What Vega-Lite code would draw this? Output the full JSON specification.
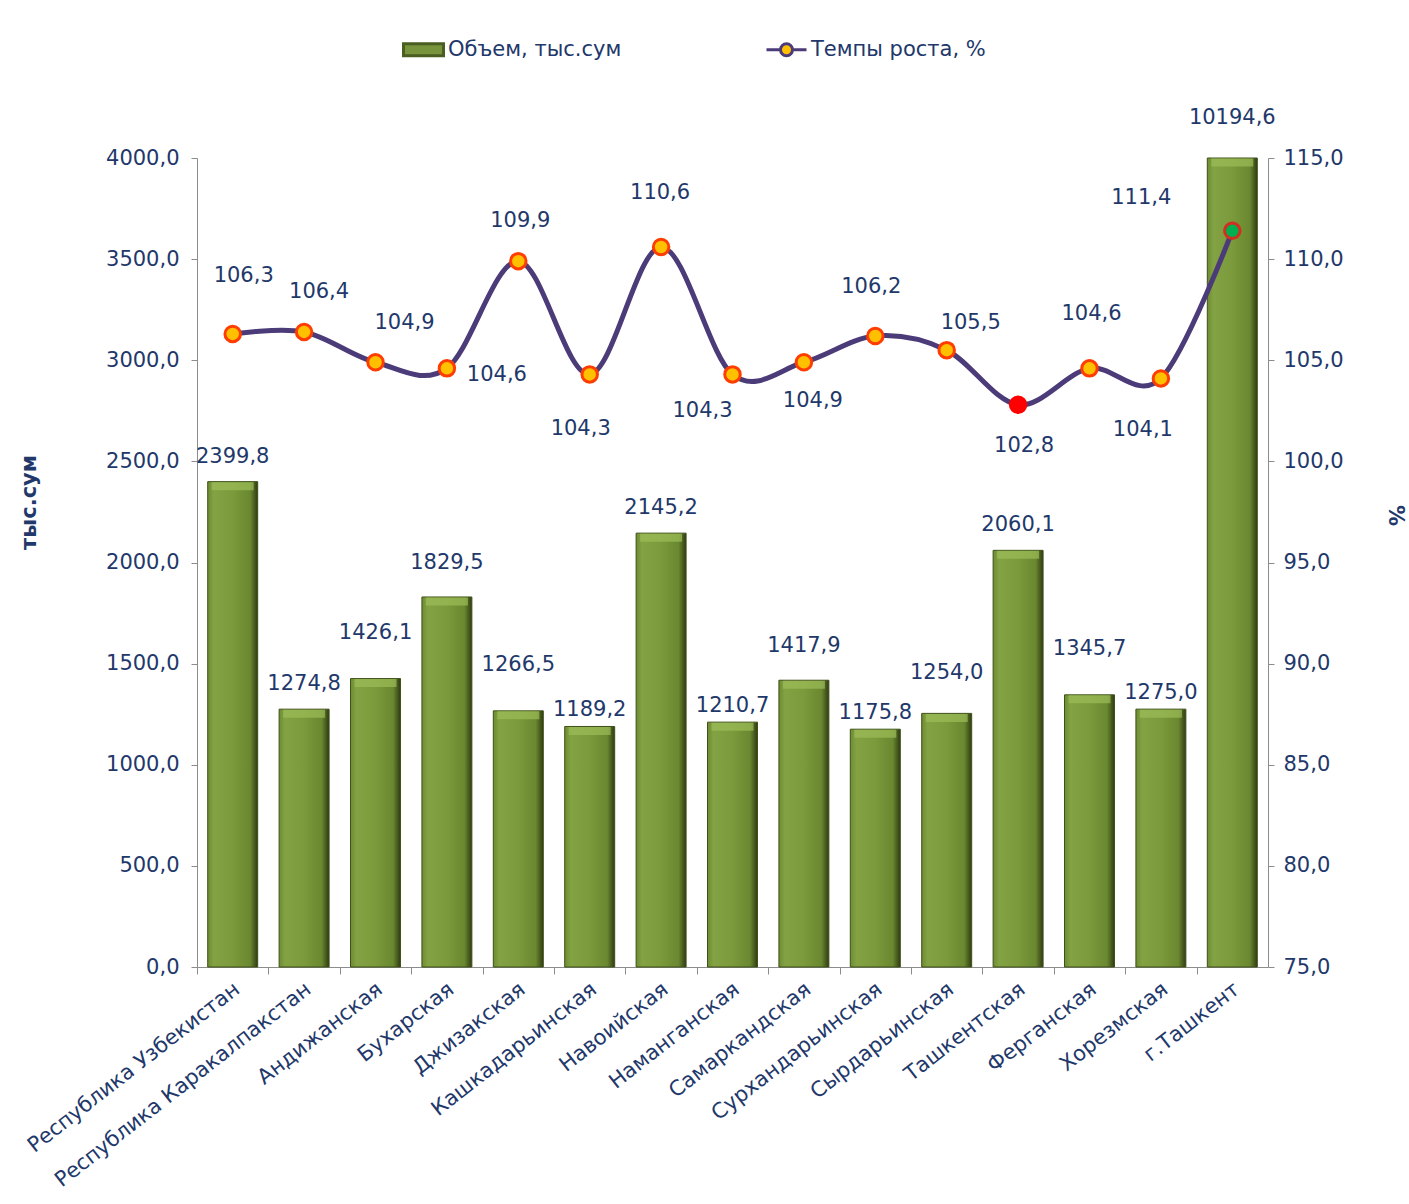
{
  "$schema": "https://vega.github.io/schema/vega-lite/v6.json",
  "width": 1071,
  "height": 809,
  "autosize": "none",
  "padding": {"left": 197, "top": 158, "right": 141, "bottom": 237},
  "background": "white",
  "config": {
    "locale": {"number": {"decimal": ",", "thousands": "\u00a0", "grouping": [3], "currency": ["", ""]}},
    "view": {"stroke": null},
    "font": "DejaVu Sans",
    "text": {"font": "DejaVu Sans", "fontSize": 21, "color": "#22386A"}
  },
  "data": {
    "values": [
      {"region": "Республика Узбекистан", "volume": 2399.8, "growth": 106.3},
      {"region": "Республика Каракалпакстан", "volume": 1274.8, "growth": 106.4},
      {"region": "Андижанская", "volume": 1426.1, "growth": 104.9},
      {"region": "Бухарская", "volume": 1829.5, "growth": 104.6},
      {"region": "Джизакская", "volume": 1266.5, "growth": 109.9},
      {"region": "Кашкадарьинская", "volume": 1189.2, "growth": 104.3},
      {"region": "Навоийская", "volume": 2145.2, "growth": 110.6},
      {"region": "Наманганская", "volume": 1210.7, "growth": 104.3},
      {"region": "Самаркандская", "volume": 1417.9, "growth": 104.9},
      {"region": "Сурхандарьинская", "volume": 1175.8, "growth": 106.2},
      {"region": "Сырдарьинская", "volume": 1254.0, "growth": 105.5},
      {"region": "Ташкентская", "volume": 2060.1, "growth": 102.8},
      {"region": "Ферганская", "volume": 1345.7, "growth": 104.6},
      {"region": "Хорезмская", "volume": 1275.0, "growth": 104.1},
      {"region": "г.Ташкент", "volume": 10194.6, "growth": 111.4}
    ]
  },
  "encoding": {
    "x": {
      "field": "region", "type": "nominal", "sort": null,
      "scale": {"paddingInner": 0.3, "paddingOuter": 0.15},
      "axis": {
        "title": null, "labelAngle": -38, "labelFont": "DejaVu Sans", "labelFontSize": 21,
        "labelColor": "#22386A", "tickOffset": -35.7, "labelOffset": 33,
        "domainColor": "#8C8C8C", "tickColor": "#8C8C8C", "tickSize": 7, "labelPadding": 4, "labelLimit": 500
      }
    }
  },
  "layer": [
    {
      "encoding": {
        "y": {
          "field": "volume", "type": "quantitative",
          "scale": {"domain": [0, 4000], "nice": false, "clamp": true},
          "axis": {
            "title": "тыс.сум", "values": [0, 500, 1000, 1500, 2000, 2500, 3000, 3500, 4000], "format": ".1f",
            "grid": false, "labelFont": "DejaVu Sans", "labelFontSize": 21, "labelColor": "#22386A",
            "titleFont": "DejaVu Sans", "titleFontSize": 21, "titleColor": "#22386A", "titleFontWeight": "bold",
            "titleX": -158, "titleY": 344, "domainColor": "#8C8C8C", "tickColor": "#8C8C8C", "tickSize": 6, "labelPadding": 12
          }
        }
      },
      "layer": [
        {
          "mark": {
            "type": "bar",
            "color": {
              "x1": 0, "y1": 0, "x2": 1, "y2": 0, "gradient": "linear",
              "stops": [
                {"offset": 0, "color": "#6E8C33"},
                {"offset": 0.12, "color": "#82A243"},
                {"offset": 0.5, "color": "#7A9A3B"},
                {"offset": 0.85, "color": "#6A8830"},
                {"offset": 1, "color": "#2F3B12"}
              ]
            },
            "stroke": "#3F5018", "strokeWidth": 1
          }
        },
        {
          "mark": {"type": "tick", "color": "#9CBD58", "opacity": 0.7, "thickness": 8, "size": 42, "yOffset": 4.5}
        },
        {
          "mark": {"type": "square", "size": 0, "opacity": 1},
          "encoding": {
            "fill": {
              "datum": "Объем, тыс.сум", "type": "nominal",
              "scale": {"domain": ["Объем, тыс.сум", "Темпы роста, %"], "range": ["#77933C", "#FFC000"]},
              "legend": {
                "title": null, "orient": "none", "legendX": 205, "legendY": -130, "direction": "horizontal",
                "symbolSize": 1600, "labelFont": "DejaVu Sans", "labelFontSize": 21, "labelColor": "#22386A",
                "labelLimit": 400, "columnPadding": 138, "labelOffset": 3, "symbolOpacity": 1,
                "encode": {
                  "symbols": {
                    "update": {
                      "shape": {"signal": "datum.value === 'Объем, тыс.сум' ? 'M-1,-0.3H1V0.3H-1Z' : 'M-1,0H-0.3M0.3,0H1M-0.3,0A0.3,0.3 0 1,0 0.3,0A0.3,0.3 0 1,0 -0.3,0Z'"},
                      "stroke": {"signal": "datum.value === 'Объем, тыс.сум' ? '#4A5E22' : '#4B3B78'"},
                      "strokeWidth": {"value": 3},
                      "opacity": {"value": 1}
                    }
                  }
                }
              }
            }
          }
        },
        {
          "encoding": {"text": {"field": "volume", "type": "quantitative", "format": ".1f"}},
          "layer": [
            {"transform": [{"filter": "indexof(['Республика Узбекистан','Республика Каракалпакстан','Навоийская','Ташкентская'], datum.region) >= 0"}], "mark": {"type": "text", "dy": -25}},
            {"transform": [{"filter": "indexof(['Андижанская','Джизакская','Ферганская'], datum.region) >= 0"}], "mark": {"type": "text", "dy": -46}},
            {"transform": [{"filter": "indexof(['Бухарская','Самаркандская'], datum.region) >= 0"}], "mark": {"type": "text", "dy": -34}},
            {"transform": [{"filter": "indexof(['Кашкадарьинская','Наманганская','Сурхандарьинская','Хорезмская'], datum.region) >= 0"}], "mark": {"type": "text", "dy": -16}},
            {"transform": [{"filter": "indexof(['Сырдарьинская','г.Ташкент'], datum.region) >= 0"}], "mark": {"type": "text", "dy": -40}}
          ]
        }
      ]
    },
    {
      "encoding": {
        "y": {
          "field": "growth", "type": "quantitative",
          "scale": {"domain": [75, 115], "nice": false, "zero": false},
          "axis": {
            "orient": "right", "title": "%", "titleAngle": 90, "values": [75, 80, 85, 90, 95, 100, 105, 110, 115], "format": ".1f",
            "grid": false, "labelFont": "DejaVu Sans", "labelFontSize": 21, "labelColor": "#22386A",
            "titleFont": "DejaVu Sans", "titleFontSize": 21, "titleColor": "#22386A", "titleFontWeight": "bold",
            "titleX": 116, "titleY": 357, "domainColor": "#8C8C8C", "tickColor": "#8C8C8C", "tickSize": 6, "labelPadding": 9
          }
        }
      },
      "layer": [
        {"mark": {"type": "line", "interpolate": "cardinal", "stroke": "#4B3B78", "strokeWidth": 5}},
        {
          "mark": {"type": "square", "size": 0, "opacity": 1},
          "encoding": {"fill": {"datum": "Темпы роста, %", "type": "nominal"}}
        },
        {
          "mark": {"type": "point", "shape": "circle", "filled": true, "size": 240, "stroke": "#FF3D00", "strokeWidth": 3, "opacity": 1},
          "encoding": {
            "fill": {
              "condition": [
                {"test": "datum.region === 'Ташкентская'", "value": "#FF0000"},
                {"test": "datum.region === 'г.Ташкент'", "value": "#00B050"}
              ],
              "value": "#FFC000"
            },
            "stroke": {
              "condition": [
                {"test": "datum.region === 'Ташкентская'", "value": "#FF0000"},
                {"test": "datum.region === 'г.Ташкент'", "value": "#D03020"}
              ],
              "value": "#FF3D00"
            }
          }
        },
        {
          "encoding": {"text": {"field": "growth", "type": "quantitative", "format": ".1f"}},
          "layer": [
            {"transform": [{"filter": "datum.region === 'Республика Узбекистан'"}], "mark": {"type": "text", "dx": 11, "dy": -58}},
            {"transform": [{"filter": "datum.region === 'Республика Каракалпакстан'"}], "mark": {"type": "text", "dx": 15, "dy": -40}},
            {"transform": [{"filter": "datum.region === 'Андижанская'"}], "mark": {"type": "text", "dx": 29, "dy": -39}},
            {"transform": [{"filter": "datum.region === 'Бухарская'"}], "mark": {"type": "text", "dx": 50, "dy": 7}},
            {"transform": [{"filter": "datum.region === 'Джизакская'"}], "mark": {"type": "text", "dx": 2, "dy": -40}},
            {"transform": [{"filter": "datum.region === 'Кашкадарьинская'"}], "mark": {"type": "text", "dx": -9, "dy": 55}},
            {"transform": [{"filter": "datum.region === 'Навоийская'"}], "mark": {"type": "text", "dx": -1, "dy": -54}},
            {"transform": [{"filter": "datum.region === 'Наманганская'"}], "mark": {"type": "text", "dx": -30, "dy": 37}},
            {"transform": [{"filter": "datum.region === 'Самаркандская'"}], "mark": {"type": "text", "dx": 9, "dy": 39}},
            {"transform": [{"filter": "datum.region === 'Сурхандарьинская'"}], "mark": {"type": "text", "dx": -4, "dy": -49}},
            {"transform": [{"filter": "datum.region === 'Сырдарьинская'"}], "mark": {"type": "text", "dx": 24, "dy": -27}},
            {"transform": [{"filter": "datum.region === 'Ташкентская'"}], "mark": {"type": "text", "dx": 6, "dy": 41}},
            {"transform": [{"filter": "datum.region === 'Ферганская'"}], "mark": {"type": "text", "dx": 2, "dy": -54}},
            {"transform": [{"filter": "datum.region === 'Хорезмская'"}], "mark": {"type": "text", "dx": -18, "dy": 52}},
            {"transform": [{"filter": "datum.region === 'г.Ташкент'"}], "mark": {"type": "text", "dx": -91, "dy": -33}}
          ]
        }
      ]
    }
  ],
  "resolve": {"scale": {"y": "independent"}}
}
